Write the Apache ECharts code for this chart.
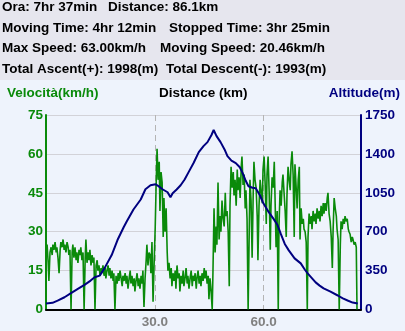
<!DOCTYPE html>
<html>
<head>
<meta charset="utf-8">
<script src="https://cdn.jsdelivr.net/npm/echarts@6/dist/echarts.min.js"></script>
<style>
  html, body { margin: 0; padding: 0; }
  #chart { width: 405px; height: 331px; }
</style>
</head>
<body>
<div id="chart"></div>
<script>
// Trip summary lines: [left part, right part]
const summaryLines = [
  ['Ora: 7hr 37min', 'Distance: 86.1km'],
  ['Moving Time: 4hr 12min', 'Stopped Time: 3hr 25min'],
  ['Max Speed: 63.00km/h', 'Moving Speed: 20.46km/h'],
  ['Total Ascent(+): 1998(m)', 'Total Descent(-): 1993(m)']
];

// Axis titles
const speedTitle = 'Velocità(km/h)';
const distanceTitle = 'Distance (km)';
const altitudeTitle = 'Altitude(m)';

// Axis ranges
const distanceMax = 86.8;
const distanceStep = 30;
const speedMax = 75;
const speedStep = 15;
const altitudeMax = 1750;
const altitudeStep = 350;

// Speed samples: [distance km, speed km/h]
const speedTrack = [
  [0.0,22],[0.3,25],[0.6,18],[0.8,11],[1.1,22],[1.4,24],[1.7,21],[1.9,25],[2.2,23],[2.5,26],
  [2.8,22],[3.0,24],[3.3,20],[3.6,14],[3.9,23],[4.1,26],[4.4,24],[4.7,27],[5.0,23],[5.2,25],
  [5.5,22],[5.8,26],[6.1,24],[6.3,21],[6.6,23],[6.9,0],[7.2,22],[7.4,25],[7.7,20],[8.0,24],
  [8.3,19],[8.5,22],[8.8,18],[9.1,23],[9.4,21],[9.6,24],[9.9,19],[10.2,22],[10.5,0],[10.8,20],
  [11.0,27],[11.3,18],[11.6,22],[11.9,19],[12.1,23],[12.4,17],[12.7,21],[13.0,18],[13.2,20],[13.5,0],
  [13.8,17],[14.1,19],[14.3,15],[14.6,17],[14.9,13],[15.2,16],[15.4,14],[15.7,17],[16.0,13],[16.3,16],
  [16.5,12],[16.8,15],[17.1,17],[17.4,13],[17.6,16],[17.9,12],[18.2,15],[18.5,11],[18.7,14],[19.0,0],
  [19.3,13],[19.6,10],[19.9,14],[20.1,11],[20.4,15],[20.7,12],[21.0,9],[21.2,13],[21.5,11],[21.8,14],
  [22.1,10],[22.3,13],[22.6,8],[22.9,12],[23.2,15],[23.4,10],[23.7,13],[24.0,9],[24.3,12],[24.5,7],
  [24.8,11],[25.1,14],[25.4,9],[25.6,12],[25.9,8],[26.2,13],[26.5,10],[26.7,15],[27.0,1],[27.3,12],
  [27.6,19],[27.8,25],[28.1,17],[28.4,22],[28.7,21],[28.9,14],[29.2,26],[29.5,3],[29.8,18],[30.1,32],
  [30.3,45],[30.6,62],[30.9,50],[31.2,57],[31.4,38],[31.7,53],[32.0,49],[32.3,28],[32.5,43],[32.8,30],
  [33.1,39],[33.4,22],[33.6,15],[33.9,18],[34.2,12],[34.5,16],[34.7,9],[35.0,14],[35.3,11],[35.6,15],
  [35.8,8],[36.1,17],[36.4,12],[36.7,14],[36.9,7],[37.2,13],[37.5,10],[37.8,15],[38.0,9],[38.3,12],
  [38.6,16],[38.9,10],[39.1,13],[39.4,8],[39.7,12],[40.0,15],[40.3,9],[40.5,13],[40.8,11],[41.1,14],
  [41.4,8],[41.6,12],[41.9,15],[42.2,10],[42.5,13],[42.7,9],[43.0,14],[43.3,11],[43.6,16],[43.8,12],
  [44.1,15],[44.4,10],[44.7,13],[44.9,4],[45.2,12],[45.5,7],[45.8,0],[46.0,14],[46.3,39],[46.6,22],
  [46.9,32],[47.1,25],[47.4,49],[47.7,27],[48.0,36],[48.2,30],[48.5,42],[48.8,35],[49.1,32],[49.4,45],
  [49.6,36],[49.9,38],[50.2,30],[50.5,9],[50.7,40],[51.0,55],[51.3,47],[51.6,53],[51.8,44],[52.1,50],
  [52.4,40],[52.7,54],[52.9,46],[53.2,51],[53.5,43],[53.8,55],[54.0,59],[54.3,48],[54.6,52],[54.9,39],
  [55.1,46],[55.4,35],[55.7,0],[56.0,30],[56.2,50],[56.5,42],[56.8,20],[57.1,45],[57.3,57],[57.6,50],
  [57.9,47],[58.2,36],[58.4,19],[58.7,40],[59.0,50],[59.3,45],[59.6,41],[59.8,54],[60.1,59],[60.4,48],
  [60.7,33],[60.9,52],[61.2,59],[61.5,45],[61.8,23],[62.0,40],[62.3,51],[62.6,47],[62.9,57],[63.1,44],
  [63.4,24],[63.7,38],[64.0,0],[64.2,32],[64.5,46],[64.8,40],[65.1,49],[65.3,52],[65.6,45],[65.9,38],
  [66.2,28],[66.4,44],[66.7,55],[67.0,50],[67.3,46],[67.5,56],[67.8,61],[68.1,52],[68.4,28],[68.6,56],
  [68.9,48],[69.2,39],[69.5,50],[69.8,55],[70.0,27],[70.3,39],[70.6,33],[70.9,35],[71.1,31],[71.4,30],
  [71.7,26],[72.0,0],[72.2,28],[72.5,37],[72.8,33],[73.1,36],[73.3,31],[73.6,38],[73.9,34],[74.2,37],
  [74.4,33],[74.7,39],[75.0,35],[75.3,38],[75.5,34],[75.8,40],[76.1,36],[76.4,41],[76.6,37],[76.9,41],
  [77.2,38],[77.5,43],[77.7,45],[78.0,37],[78.3,34],[78.6,28],[78.9,16],[79.1,30],[79.4,43],[79.7,39],
  [80.0,36],[80.2,31],[80.5,27],[80.8,0],[81.1,25],[81.3,34],[81.6,31],[81.9,35],[82.2,33],[82.4,36],
  [82.7,34],[83.0,35],[83.3,31],[83.5,30],[83.8,29],[84.1,26],[84.4,28],[84.6,27],[84.9,25],[85.2,26],
  [85.5,24],[85.7,0]
];

// Altitude profile: [distance km, altitude m]
const altitudeTrack = [
  [0.0,55],[1.8,60],[3.2,80],[5.1,110],[7.0,150],[9.0,190],[10.6,222],[12.3,260],[13.4,290],[14.8,305],
  [15.3,310],[16.1,370],[18.1,490],[19.7,625],[21.4,740],[22.2,790],[24.1,900],[26.1,990],[27.4,1082],[28.8,1118],
  [30.2,1127],[31.0,1110],[32.1,1082],[33.5,1055],[34.3,1010],[34.9,1046],[36.0,1080],[37.1,1118],[38.2,1170],[39.3,1236],
  [40.7,1320],[42.1,1416],[43.4,1470],[44.5,1506],[45.6,1570],[46.2,1615],[47.0,1560],[48.1,1506],[49.2,1440],[50.0,1380],
  [51.1,1340],[52.3,1317],[53.4,1280],[54.2,1227],[55.0,1160],[55.8,1109],[56.9,1095],[57.8,1091],[58.9,1030],[59.9,956],
  [61.3,880],[62.7,815],[63.8,760],[64.7,680],[65.8,590],[66.9,532],[68.5,460],[70.2,415],[71.3,360],[72.1,325],
  [73.2,285],[74.3,244],[75.4,215],[76.5,190],[78.4,160],[80.4,126],[81.8,100],[83.1,81],[84.5,62],[85.9,54]
];

const FONT = '"Liberation Sans", Arial, sans-serif';
const SPEED_COLOR = '#0a8a0a';
const ALT_COLOR = '#000080';

const chart = echarts.init(document.getElementById('chart'), null, { renderer: 'canvas' });

const summaryTexts = [];
const rightX = [108, 169, 160, 166];
const lineY = [8, 28.5, 49, 70];
summaryLines.forEach((pair, i) => {
  summaryTexts.push({
    type: 'text', left: 2, top: lineY[i] - 7.5,
    style: { text: pair[0], font: 'bold 13.5px ' + FONT, fill: '#000' }
  });
  summaryTexts.push({
    type: 'text', left: rightX[i], top: lineY[i] - 7.5,
    style: { text: pair[1], font: 'bold 13.5px ' + FONT, fill: '#000' }
  });
});

chart.setOption({
  backgroundColor: '#eef3fc',
  animation: false,
  graphic: [
    { type: 'rect', left: 0, top: 0, z: -1, shape: { width: 405, height: 80 }, style: { fill: '#e6e6ee' } },
    ...summaryTexts,
    { type: 'text', left: 7, top: 86.5, style: { text: speedTitle, font: 'bold 13.5px ' + FONT, fill: SPEED_COLOR } },
    { type: 'text', left: 159, top: 86.5, style: { text: distanceTitle, font: 'bold 13.5px ' + FONT, fill: '#000' } },
    { type: 'text', right: 5, top: 86.5, style: { text: altitudeTitle, font: 'bold 13.5px ' + FONT, fill: ALT_COLOR } }
  ],
  grid: { left: 46, right: 44, top: 115, bottom: 21.5, containLabel: false },
  xAxis: {
    type: 'value', min: 0, max: distanceMax, interval: distanceStep,
    axisLine: { show: true, onZero: false, lineStyle: { color: '#000', width: 2 } },
    axisTick: { show: false },
    axisLabel: {
      showMinLabel: false, showMaxLabel: false, margin: 6,
      color: '#808080', fontWeight: 'bold', fontSize: 13.5, fontFamily: FONT,
      formatter: v => v.toFixed(1)
    },
    splitLine: { show: true, lineStyle: { color: '#b4b4b4', type: [6, 4], width: 1 } }
  },
  yAxis: [
    {
      type: 'value', min: 0, max: speedMax, interval: speedStep,
      axisLine: { show: true, lineStyle: { color: SPEED_COLOR, width: 2 } },
      axisTick: { show: false },
      axisLabel: { margin: 3, color: SPEED_COLOR, fontWeight: 'bold', fontSize: 13.5, fontFamily: FONT,
        formatter: v => String(v) },
      splitLine: { show: true, lineStyle: { color: '#d2d2d8', width: 1 } }
    },
    {
      type: 'value', min: 0, max: altitudeMax, interval: altitudeStep, position: 'right',
      axisLine: { show: true, lineStyle: { color: ALT_COLOR, width: 2 } },
      axisTick: { show: false },
      axisLabel: { margin: 4, color: ALT_COLOR, fontWeight: 'bold', fontSize: 13.5, fontFamily: FONT,
        formatter: v => String(v) },
      splitLine: { show: false }
    }
  ],
  series: [
    {
      name: 'speed', type: 'line', yAxisIndex: 0, data: speedTrack,
      showSymbol: false, z: 2,
      lineStyle: { color: SPEED_COLOR, width: 1.6 }
    },
    {
      name: 'altitude', type: 'line', yAxisIndex: 1, data: altitudeTrack,
      showSymbol: false, z: 3,
      lineStyle: { color: ALT_COLOR, width: 2 }
    }
  ]
});
</script>
</body>
</html>
